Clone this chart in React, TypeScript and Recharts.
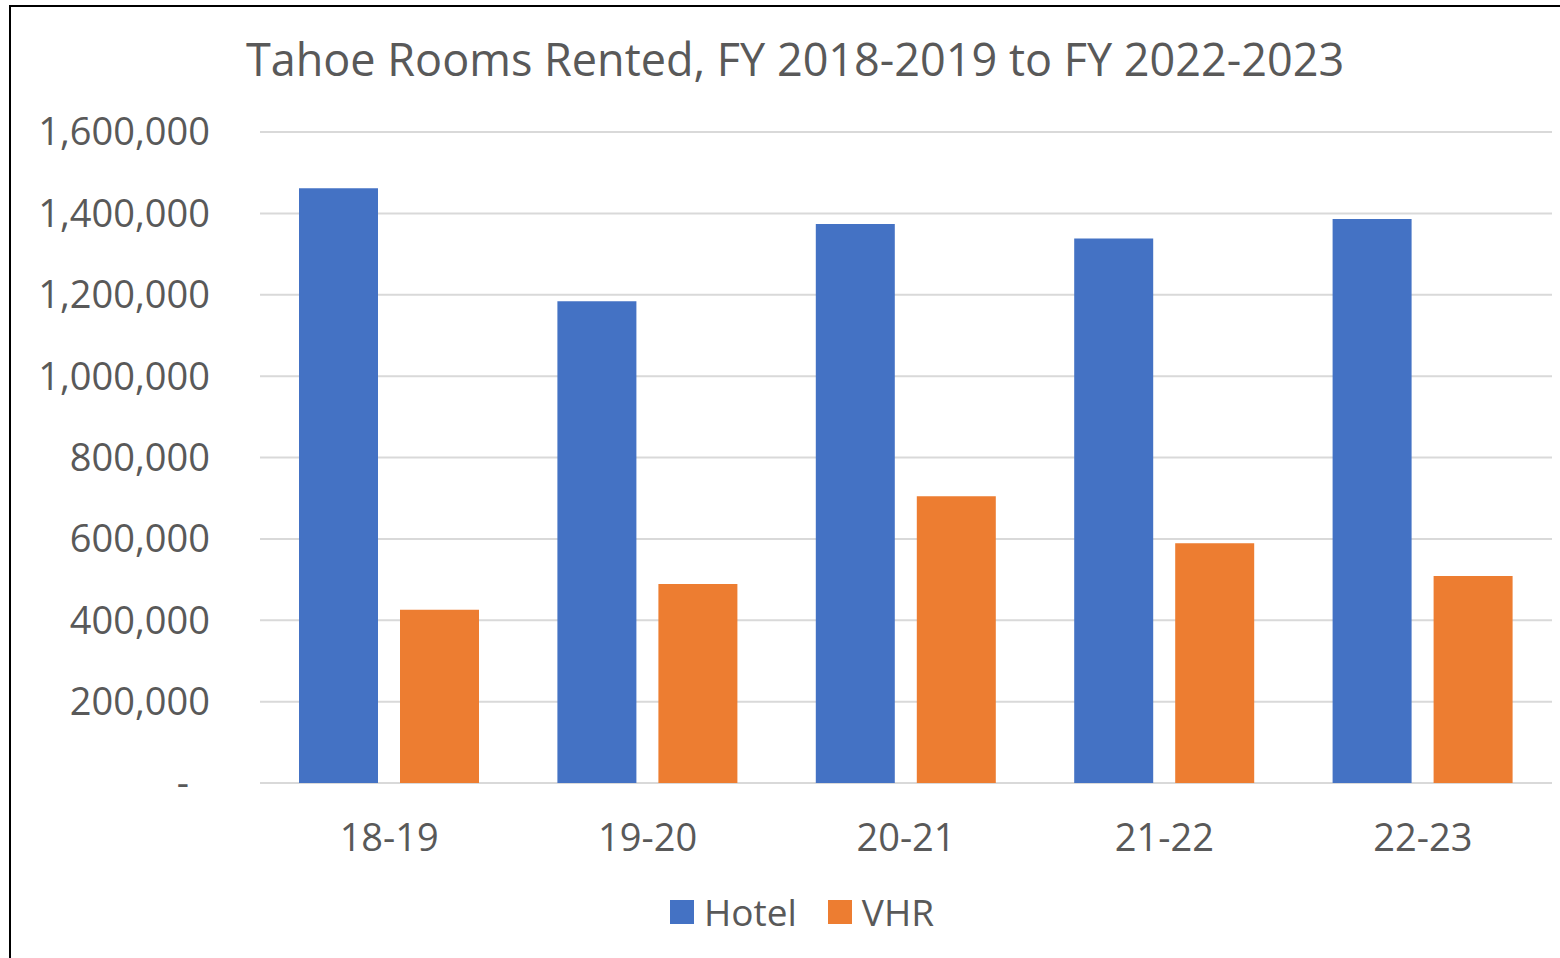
import { BarChart, Bar, XAxis, YAxis, CartesianGrid, Legend } from "recharts";

const categories = ["18-19", "19-20", "20-21", "21-22", "22-23"];
const hotel = [1462000, 1184000, 1374000, 1338000, 1386000];
const vhr = [426000, 489000, 705000, 589000, 509000];
const yTicks = [0, 200000, 400000, 600000, 800000, 1000000, 1200000, 1400000, 1600000];

const data = categories.map((period, i) => ({ period, Hotel: hotel[i], VHR: vhr[i] }));

const FONT = "'Open Sans', 'Noto Sans', sans-serif";
const TEXT = "#595959";

function YTick(props: any) {
  const { x, y, payload } = props;
  const zero = payload.value === 0;
  return (
    <text
      x={zero ? x - 21 : x}
      y={y}
      dy="0.355em"
      textAnchor="end"
      fill={TEXT}
      fontSize={38}
      fontFamily={FONT}
    >
      {zero ? "-" : payload.value.toLocaleString("en-US")}
    </text>
  );
}

function LegendContent(props: any) {
  const { payload } = props;
  return (
    <div style={{ display: "flex", alignItems: "center", fontFamily: FONT, fontSize: 37, color: TEXT }}>
      {payload.map((p: any, i: number) => (
        <div key={p.value} style={{ display: "flex", alignItems: "center", marginLeft: i ? 31 : 0 }}>
          <div style={{ width: 24, height: 24, background: p.color }} />
          <span style={{ marginLeft: 10, lineHeight: 1 }}>{p.value}</span>
        </div>
      ))}
    </div>
  );
}

export default function App() {
  return (
    <div style={{ position: "fixed", left: 0, top: 0, width: 1560, height: 958, overflow: "hidden", background: "#fff" }}>
      <div
        style={{
          position: "absolute",
          left: 9,
          top: 5,
          width: 1600,
          height: 1000,
          border: "2px solid #000",
        }}
      />
      <div
        style={{
          position: "absolute",
          left: 0,
          top: 36,
          width: 1590,
          textAlign: "center",
          fontFamily: FONT,
          fontSize: 45,
          lineHeight: 1,
          color: TEXT,
          whiteSpace: "nowrap",
        }}
      >
        Tahoe Rooms Rented, FY 2018-2019 to FY 2022-2023
      </div>
      <div style={{ position: "absolute", left: 0, top: 0 }}>
        <BarChart
          width={1560}
          height={958}
          data={data}
          margin={{ top: 132, right: 8, left: 0, bottom: 99 }}
          barSize={79}
          barGap={22}
        >
          <CartesianGrid vertical={false} stroke="#d9d9d9" strokeWidth={2} />
          <XAxis
            dataKey="period"
            height={76}
            axisLine={false}
            tickLine={false}
            tickSize={0}
            tickMargin={41}
            tick={{ fill: TEXT, fontSize: 38, fontFamily: FONT }}
          />
          <YAxis
            width={260}
            domain={[0, 1600000]}
            ticks={yTicks}
            axisLine={false}
            tickLine={false}
            tickSize={0}
            tickMargin={50}
            tick={<YTick />}
          />
          <Legend
            layout="horizontal"
            verticalAlign="middle"
            align="center"
            content={<LegendContent />}
            wrapperStyle={{ position: "absolute", top: 893, left: 670, width: "auto" }}
          />
          <Bar dataKey="Hotel" fill="#4472C4" isAnimationActive={false} />
          <Bar dataKey="VHR" fill="#ED7D31" isAnimationActive={false} />
        </BarChart>
      </div>
    </div>
  );
}
